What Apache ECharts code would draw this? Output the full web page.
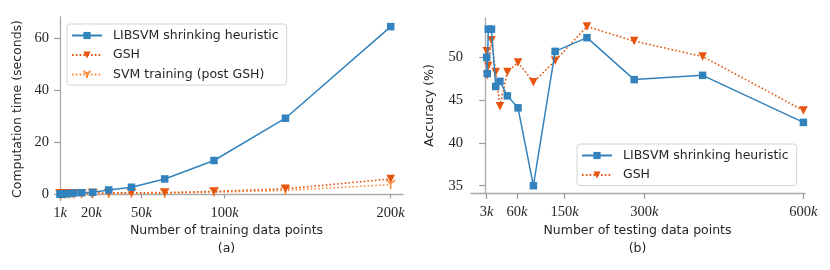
<!DOCTYPE html>
<html><head><meta charset="utf-8">
<script src="https://cdn.jsdelivr.net/npm/echarts@6/dist/echarts.min.js"></script>
<style>html,body{margin:0;padding:0;background:#fff}#c{width:830px;height:270px}</style>
</head><body><div id="c"></div>
<script>
// ---- data (a): training time ----
const trainX = [1, 1.33, 2, 4, 6.67, 9.33, 14, 20.67, 30.33, 44, 64, 93.67, 136.67, 200];
const trainLibsvm = [0.02, 0.03, 0.06, 0.15, 0.3, 0.45, 0.6, 0.75, 1.65, 2.7, 5.9, 13.0, 29.3, 64.6];
const trainGsh = [0.3, 0.3, 0.3, 0.35, 0.35, 0.4, 0.4, 0.45, 0.5, 0.55, 0.65, 1.1, 2.1, 5.9];
const trainSvm = [0.02, 0.02, 0.03, 0.05, 0.08, 0.1, 0.15, 0.2, 0.3, 0.35, 0.4, 0.8, 1.5, 3.7];
const trainTicks = [1, 20, 50, 100, 200];
const timeTicks = [0, 20, 40, 60];
// ---- data (b): accuracy ----
const testX = [3, 4, 6, 12, 20, 28, 42, 62, 91, 132, 192, 281, 410, 600];
const accLibsvm = [50.0, 48.1, 53.3, 53.3, 46.6, 47.2, 45.5, 44.1, 35.0, 50.7, 52.3, 47.4, 47.9, 42.4];
const accGsh = [50.7, 47.9, 49.0, 52.0, 48.3, 44.3, 48.3, 49.4, 47.1, 49.6, 53.6, 51.9, 50.1, 43.8];
const testTicks = [3, 60, 150, 300, 600];
const accTicks = [35, 40, 45, 50];

const names = ['LIBSVM shrinking heuristic', 'GSH', 'SVM training (post GSH)'];
const xNames = ['Number of training data points', 'Number of testing data points'];
const yNames = ['Computation time (seconds)', 'Accuracy (%)'];
const captions = ['(a)', '(b)'];

const BLUE = '#3182bd', ORANGE = '#e6550d', LORANGE = '#fd8d3c';
const zip = (xs, ys) => xs.map((x, i) => [x, ys[i]]);

const SERIF = 'Liberation Serif';
const SANS = 'DejaVu Sans';
const TXT = '#262626';
const FS = 12.5;
const kFmt = v => '{n|' + v + '}{k|k}';
const tickRich = { n: { fontFamily: SERIF, fontSize: 14.5, color: TXT }, k: { fontFamily: SERIF, fontSize: 14.5, fontStyle: 'italic', color: TXT } };
const spine = { show: true, lineStyle: { color: '#aaa', width: 1.3 } };
function tick(len) { return { show: true, length: len, lineStyle: { color: '#999', width: 1.2 } }; }

function xAxis(idx, min, max, ticks, tlen, margin) {
  return {
    type: 'value', gridIndex: idx, min: min, max: max,
    axisLine: spine, axisTick: Object.assign({ customValues: ticks }, tick(tlen)),
    axisLabel: { customValues: ticks, formatter: kFmt, rich: tickRich, margin: margin },
    splitLine: { show: false }
  };
}
function yAxis(idx, min, max, ticks, name, gap, margin) {
  return {
    type: 'value', gridIndex: idx, min: min, max: max,
    axisLine: spine, axisTick: Object.assign({ customValues: ticks }, tick(6)),
    axisLabel: { customValues: ticks, fontFamily: SERIF, fontSize: 14.5, color: TXT, margin: margin },
    splitLine: { show: false },
    name: name, nameLocation: 'middle', nameGap: gap,
    nameTextStyle: { fontFamily: SANS, fontSize: FS, color: TXT }
  };
}
const Y_PATH = 'path://M0,0 L5,4.5 L10,0 M5,4.5 L5,11';

function legend(data, left, top) {
  return {
    data: data, orient: 'vertical', left: left, top: top, itemGap: 6.5, itemWidth: 30, itemHeight: 9,
    borderColor: '#d4d4d4', borderWidth: 1, borderRadius: 3, padding: [5, 8, 4, 4], backgroundColor: '#fff',
    textStyle: { fontFamily: SANS, fontSize: FS, color: TXT, padding: [0, 0, 0, 6] }, selectedMode: false
  };
}
function label(text, x, y) {
  return { type: 'text', x: x, y: y, style: { text: text, fontFamily: SANS, fontSize: FS, fill: TXT, textAlign: 'center', textVerticalAlign: 'middle' } };
}

const option = {
  animation: false,
  grid: [
    { left: 60, right: 427, top: 17, bottom: 69 },
    { left: 471, right: 25, top: 18, bottom: 77 }
  ],
  xAxis: [
    xAxis(0, 1, 207.4, trainTicks, 4, 5),
    xAxis(1, -26.6, 603, testTicks, 6, 12)
  ],
  yAxis: [
    yAxis(0, -2.6, 68.3, timeTicks, yNames[0], 36, 11),
    yAxis(1, 34.15, 54.6, accTicks, yNames[1], 35, 8)
  ],
  graphic: [
    label(xNames[0], 226.5, 230.5),
    label(xNames[1], 637.5, 230.5),
    label(captions[0], 226.5, 248.5),
    label(captions[1], 637.5, 248.5)
  ],
  legend: [legend(names, 67, 24), legend(names.slice(0, 2), 577, 144)],
  series: [
    { name: names[0], type: 'line', xAxisIndex: 0, yAxisIndex: 0, data: zip(trainX, trainLibsvm), color: BLUE,
      symbol: 'rect', symbolSize: 7.5, lineStyle: { width: 1.5, color: BLUE }, itemStyle: { color: BLUE }, z: 3 },
    { name: names[1], type: 'line', xAxisIndex: 0, yAxisIndex: 0, data: zip(trainX, trainGsh), color: ORANGE,
      symbol: 'triangle', symbolRotate: 180, symbolSize: 8.5, lineStyle: { width: 1.6, type: [1.6, 2.2], color: ORANGE }, itemStyle: { color: ORANGE }, z: 2 },
    { name: names[2], type: 'line', xAxisIndex: 0, yAxisIndex: 0, data: zip(trainX, trainSvm), color: LORANGE,
      symbol: Y_PATH, symbolSize: 9, lineStyle: { width: 1.6, type: [1.6, 2.2], color: LORANGE },
      itemStyle: { color: 'rgba(0,0,0,0)', borderColor: LORANGE, borderWidth: 1.6 }, z: 1 },
    { name: names[0], type: 'line', xAxisIndex: 1, yAxisIndex: 1, data: zip(testX, accLibsvm), color: BLUE,
      symbol: 'rect', symbolSize: 7.5, lineStyle: { width: 1.5, color: BLUE }, itemStyle: { color: BLUE }, z: 3 },
    { name: names[1], type: 'line', xAxisIndex: 1, yAxisIndex: 1, data: zip(testX, accGsh), color: ORANGE,
      symbol: 'triangle', symbolRotate: 180, symbolSize: 8.5, lineStyle: { width: 1.6, type: [1.6, 2.2], color: ORANGE }, itemStyle: { color: ORANGE }, z: 2 }
  ]
};
const chart = echarts.init(document.getElementById('c'), null, { renderer: 'canvas' });
chart.setOption(option);
</script></body></html>
